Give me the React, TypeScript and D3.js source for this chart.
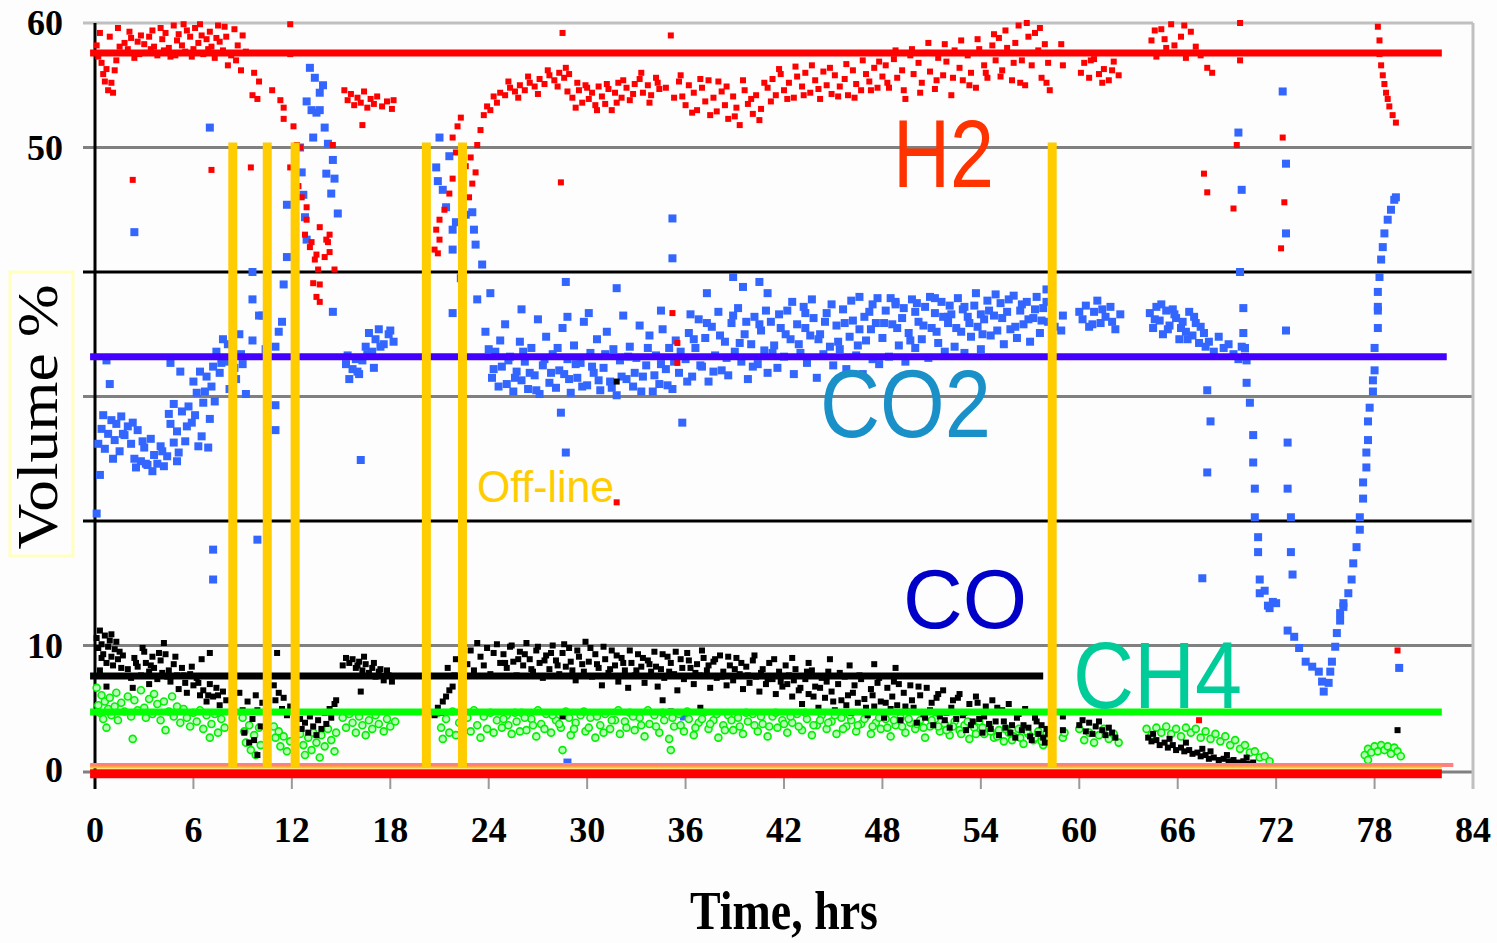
import { useEffect, useRef } from 'react';
import * as d3 from 'd3';

type Pt = [number, number];

// axis values
const xTicks = [0, 6, 12, 18, 24, 30, 36, 42, 48, 54, 60, 66, 72, 78, 84];
const yGrid = [10, 20, 30, 40, 50, 60];
const yTickLabels = [0, 10, 50, 60];

// off-line periods (hours) drawn as vertical bars from 0 up to offlineTop
const offlineHours = [8.4, 10.5, 12.2, 20.2, 22.4, 58.35];
const offlineTop = 50.4;

// average levels: H2, CO2, CO, CH4 (value and last hour)
const levelValues = [57.6, 33.2, 7.55, 4.66];
const levelEnds = [82.1, 82.4, 57.8, 82.1];
const zeroLevels = [0.4, 0.2, -0.3];
const zeroEnds = [82.8, 82.1, 82.1];

const h2Points: Pt[] = [
  [0.1, 58.2], [0.2, 57.3], [0.4, 56.8], [0.5, 55.9], [0.7, 56.3], [0.8, 54.6], [1.0, 55.2], [1.1, 54.4], [1.3, 57.0], [1.5, 58.1],
  [1.6, 57.6], [1.8, 58.4], [2.0, 57.9], [2.2, 58.8], [2.4, 57.2], [2.6, 58.5], [2.8, 59.0], [3.0, 58.3], [3.1, 57.6], [3.3, 58.9],
  [3.5, 59.4], [3.6, 58.1], [3.8, 57.4], [4.0, 59.6], [4.1, 58.7], [4.3, 59.2], [4.5, 58.0], [4.6, 57.3], [4.8, 59.8], [5.0, 58.6],
  [5.1, 59.1], [5.3, 58.2], [5.5, 57.7], [5.6, 59.4], [5.8, 58.9], [6.0, 57.9], [6.1, 59.6], [6.3, 58.4], [6.5, 59.0], [6.6, 57.5],
  [6.8, 58.7], [7.0, 59.3], [7.1, 58.1], [7.3, 57.2], [7.5, 59.8], [7.6, 58.5], [7.8, 57.8], [8.0, 58.9], [8.1, 56.6], [8.3, 57.4],
  [8.5, 59.5], [8.7, 58.2], [9.0, 59.0], [9.2, 57.7], [8.6, 57.0], [8.9, 56.2], [9.7, 56.0], [10.0, 55.3], [9.6, 54.2], [9.9, 53.9],
  [0.3, 59.2], [0.9, 58.9], [1.4, 59.6], [2.1, 59.3], [2.7, 57.5], [3.4, 57.9], [4.2, 57.8], [4.9, 57.4], [5.4, 59.9], [5.9, 57.3],
  [6.4, 59.9], [6.9, 57.9], [7.4, 58.8], [7.9, 59.7], [1.2, 56.2], [0.6, 55.3],
  [10.8, 54.6], [11.3, 53.8], [11.5, 53.2], [11.5, 52.3], [11.9, 59.9], [11.9, 57.5], [12.1, 51.7], [12.3, 50.2], [12.5, 50.0], [14.5, 50.2],
  [11.9, 48.4], [12.4, 46.9], [12.6, 46.0], [12.9, 45.2], [12.9, 44.2], [13.7, 43.6], [14.1, 42.6], [13.2, 42.4], [13.1, 42.0], [13.5, 41.4],
  [14.0, 41.2], [14.3, 41.6], [13.3, 39.1], [13.5, 38.0], [14.6, 40.2], [13.7, 37.6], [12.8, 43.0], [13.4, 41.0], [13.6, 40.2], [13.7, 39.0],
  [14.2, 42.4], [14.3, 43.0],
  [15.2, 54.6], [15.4, 53.8], [15.6, 54.3], [15.8, 53.4], [16.0, 54.0], [16.2, 53.6], [16.4, 54.5], [16.6, 53.2], [16.8, 53.9], [17.0, 53.5],
  [17.2, 54.1], [17.5, 53.3], [17.8, 53.7], [18.1, 53.1], [18.2, 53.8], [16.3, 51.8],
  [20.7, 41.8], [21.0, 42.6], [20.8, 43.4], [20.9, 41.5], [21.0, 44.2], [21.3, 45.0], [21.6, 46.3], [21.8, 47.5], [21.8, 50.8], [22.0, 49.6],
  [22.3, 52.4], [22.1, 51.7], [22.6, 48.5], [22.9, 49.2], [23.0, 47.1], [22.8, 46.0], [23.2, 48.0], [23.3, 50.2], [23.5, 51.4], [23.7, 52.6],
  [23.9, 53.3], [24.1, 53.0], [24.3, 54.1], [24.5, 53.6], [24.7, 54.4],
  [25.0, 54.2], [25.3, 54.8], [25.6, 54.5], [25.9, 55.0], [26.2, 54.6], [26.5, 55.2], [26.8, 54.9], [27.1, 55.5], [27.4, 55.1], [27.7, 55.8],
  [28.0, 55.4], [28.3, 56.0], [28.6, 55.6], [28.7, 56.4], [28.9, 55.9], [29.1, 54.0], [29.3, 53.2], [29.5, 54.6], [29.7, 53.6], [29.9, 55.0],
  [30.1, 53.9], [30.3, 54.4], [30.5, 53.4], [30.7, 54.9], [30.9, 54.1], [31.1, 53.5], [31.3, 54.7], [31.5, 53.0], [31.7, 54.4], [31.9, 55.2],
  [32.1, 54.0], [32.4, 54.8], [32.6, 53.8], [32.9, 55.1], [33.2, 55.5], [33.4, 54.4], [33.7, 55.0], [33.9, 54.2], [34.2, 55.6], [34.4, 54.7],
  [35.6, 55.3], [35.8, 54.1], [36.0, 53.4], [36.2, 55.0], [36.5, 54.4], [36.7, 53.0], [37.0, 54.8], [37.2, 53.7], [37.4, 55.4], [37.7, 54.0],
  [37.9, 52.9], [38.2, 54.5], [38.4, 53.4], [38.6, 52.3], [38.9, 54.1], [39.1, 53.2], [39.3, 51.8], [39.6, 54.6], [39.8, 53.5], [40.1, 52.7],
  [40.3, 54.2], [40.6, 53.1], [41.0, 54.8], [41.3, 55.5], [41.5, 54.2], [41.8, 55.9], [42.0, 54.6], [42.3, 55.2], [42.6, 54.0], [42.8, 55.7],
  [43.1, 54.9], [43.3, 56.0], [43.6, 54.4], [43.9, 55.4], [44.1, 54.7], [44.4, 56.1], [44.6, 55.0], [44.9, 54.3], [45.1, 55.8], [45.4, 54.9],
  [45.7, 55.5], [45.9, 54.2], [46.2, 56.2], [46.4, 55.1], [46.7, 54.6], [47.0, 55.9], [47.2, 55.3], [47.5, 56.4], [47.7, 54.8], [48.0, 55.7],
  [48.2, 56.6], [48.4, 54.8], [48.7, 57.1], [48.9, 55.6], [49.2, 56.2], [49.4, 53.9], [49.7, 57.4], [49.9, 55.9], [50.2, 56.8], [50.4, 55.2],
  [50.7, 57.6], [50.9, 56.1], [51.2, 54.7], [51.4, 57.2], [51.7, 55.8], [51.9, 56.9], [52.2, 54.2], [52.4, 57.8], [52.7, 56.4], [52.9, 55.4],
  [53.2, 57.4], [53.4, 56.0], [53.7, 54.8], [53.9, 57.9], [54.2, 56.6], [54.4, 55.6], [54.7, 58.2], [54.9, 57.0], [55.1, 58.8], [55.3, 56.2],
  [55.5, 59.4], [55.7, 57.6], [55.9, 55.4], [56.1, 58.4], [56.3, 59.8], [56.5, 57.0], [56.7, 55.0], [56.9, 58.9], [57.1, 56.6], [57.3, 59.2],
  [57.5, 57.8], [57.7, 55.6], [57.9, 58.3], [58.1, 56.8], [58.2, 54.6], [58.7, 57.6], [59.0, 56.6], [58.9, 58.3],
  [25.2, 55.3], [25.8, 54.0], [26.4, 55.7], [27.0, 54.3], [27.6, 56.2], [28.2, 54.9], [28.8, 54.5], [29.4, 55.2], [30.0, 54.8], [30.6, 53.0],
  [31.2, 55.1], [31.8, 53.6], [32.2, 55.4], [32.8, 54.3], [33.3, 56.0], [33.8, 53.6], [34.3, 55.2], [34.8, 54.8], [35.3, 54.0], [35.7, 55.8],
  [36.4, 52.8], [36.9, 55.5], [37.5, 52.6], [38.0, 55.3], [38.5, 54.9], [39.0, 52.5], [39.5, 55.4], [40.0, 53.9], [40.5, 52.2], [40.8, 55.2],
  [41.2, 53.7], [41.7, 56.3], [42.2, 53.9], [42.7, 56.5], [43.2, 54.2], [43.7, 56.6], [44.2, 53.9], [44.8, 56.4], [45.3, 54.1], [45.8, 56.7],
  [46.3, 54.0], [46.8, 57.0], [47.3, 54.6], [47.8, 56.9], [48.3, 55.2], [48.8, 57.8], [49.3, 54.6], [49.8, 57.9], [50.3, 54.4], [50.8, 58.4],
  [51.3, 55.4], [51.8, 58.3], [52.3, 55.6], [52.8, 58.6], [53.3, 55.0], [53.8, 58.7], [54.3, 56.0], [54.8, 59.1], [55.2, 55.7], [55.6, 58.0],
  [56.0, 56.8], [56.4, 55.2], [56.8, 60.0], [57.2, 57.6], [57.6, 59.6], [58.0, 55.2],
  [60.3, 56.8], [60.6, 55.6], [60.9, 57.1], [61.2, 55.9], [61.5, 56.3], [61.8, 55.4], [62.1, 56.9], [62.4, 55.8], [60.1, 56.0], [60.7, 57.0],
  [61.4, 55.2], [62.0, 56.2],
  [64.4, 58.6], [64.7, 57.3], [65.0, 59.5], [65.3, 58.0], [65.6, 59.9], [65.9, 57.6], [66.2, 58.9], [66.5, 57.2], [66.8, 59.3], [67.1, 58.1],
  [67.4, 57.4], [67.8, 56.4], [68.1, 56.0], [64.6, 59.4], [65.2, 58.7], [65.8, 58.2], [66.4, 59.8], [67.0, 57.6],
  [67.6, 47.9], [67.8, 46.4], [69.6, 50.2], [69.8, 60.0], [69.8, 57.0], [69.4, 45.1], [72.4, 50.8], [72.5, 45.6], [72.3, 41.9],
  [78.2, 59.7], [78.3, 58.6], [78.3, 57.5], [78.4, 56.6], [78.5, 55.8], [78.6, 55.1], [78.7, 54.4], [78.8, 53.9], [78.9, 53.3], [79.1, 52.6],
  [79.3, 52.0],
  [2.3, 47.4], [7.1, 48.2], [9.5, 48.4], [28.4, 47.2], [28.5, 59.2], [35.1, 59.0], [31.8, 21.5], [67.3, 4.0], [79.4, 9.6], [35.2, 36.7],
  [35.5, 34.3], [35.5, 32.7],
];

const co2Points: Pt[] = [
  [0.1, 20.6], [0.3, 23.7], [0.2, 26.2], [0.4, 27.4], [0.6, 25.8], [0.7, 32.9], [0.9, 31.0], [0.8, 27.0], [1.0, 28.1], [1.2, 26.5],
  [1.3, 27.8], [1.5, 25.6], [1.6, 28.4], [1.8, 26.9], [2.0, 27.6], [2.2, 26.2], [2.4, 25.0], [2.6, 27.3], [2.8, 24.8], [3.0, 25.9],
  [3.2, 24.5], [3.4, 26.6], [3.6, 25.3], [3.8, 24.6], [4.0, 26.0], [4.2, 24.4], [4.4, 25.2], [4.6, 27.8], [4.8, 26.3], [5.0, 24.8],
  [4.5, 28.6], [4.8, 29.4], [5.0, 27.2], [5.3, 28.8], [5.5, 26.4], [5.7, 29.2], [5.9, 27.9], [6.0, 31.2], [6.2, 30.3], [6.4, 32.0],
  [6.5, 26.8], [6.6, 29.5], [6.8, 31.6], [7.0, 28.2], [7.1, 30.8], [7.2, 32.4], [7.4, 33.6], [7.6, 31.9], [7.8, 34.6], [8.0, 32.8],
  [8.2, 30.6], [8.4, 33.9], [8.6, 31.4], [8.8, 35.0], [9.0, 32.6], [9.2, 30.2], [5.2, 32.0], [4.6, 32.7], [6.3, 26.0], [3.1, 24.6],
  [0.5, 28.5], [1.1, 25.0], [1.7, 27.0], [2.3, 27.9], [2.9, 26.4], [3.5, 24.0], [4.1, 25.6], [5.1, 25.5], [5.6, 27.6], [6.1, 28.5],
  [6.7, 30.4], [7.3, 29.6], [7.7, 32.7], [8.1, 34.2], [8.5, 32.3], [8.9, 33.4],
  [6.9, 25.9], [2.4, 43.2], [7.0, 51.6], [7.2, 17.7], [7.2, 15.3], [9.9, 18.5], [16.2, 24.9], [2.5, 24.3],
  [9.6, 34.5], [9.6, 40.0], [9.6, 37.8], [10.0, 36.5], [10.2, 36.5], [10.4, 33.8], [11.0, 34.0], [11.4, 36.0], [11.2, 35.2], [11.0, 29.3],
  [11.0, 27.3], [11.7, 45.4], [11.7, 41.2], [11.5, 39.0], [12.5, 50.0], [12.6, 48.0], [12.7, 46.2], [12.8, 44.4], [12.9, 42.6], [12.9, 53.7],
  [13.2, 53.0], [13.5, 52.8], [13.1, 56.4], [13.4, 55.6], [13.7, 54.4], [13.9, 55.0], [13.7, 53.0], [14.0, 51.6], [14.2, 50.3], [14.5, 49.0],
  [14.1, 47.9], [14.4, 46.3], [14.8, 44.7], [14.6, 47.5], [14.5, 36.8], [13.3, 50.8],
  [15.3, 32.6], [15.5, 31.4], [15.7, 32.2], [15.9, 33.0], [16.1, 31.8], [16.3, 32.9], [16.5, 34.0], [16.7, 35.1], [16.9, 33.6], [17.1, 34.6],
  [17.3, 35.4], [17.6, 34.2], [17.9, 35.0], [18.2, 34.4], [17.0, 32.3], [15.4, 33.3], [16.0, 32.0], [16.6, 33.4], [17.4, 34.0], [18.0, 35.3],
  [20.8, 48.4], [21.0, 50.8], [21.2, 46.6], [21.4, 45.2], [21.8, 43.4], [21.8, 41.8], [22.0, 44.0], [22.6, 44.6], [23.1, 43.4], [23.2, 42.2],
  [23.3, 37.8], [24.1, 38.3], [21.8, 36.7], [22.3, 39.5], [20.9, 47.3], [21.6, 49.3], [23.0, 44.8], [23.6, 40.6], [23.8, 35.2], [24.0, 33.8],
  [24.2, 31.5], [24.4, 33.6], [24.6, 30.8], [24.8, 32.4], [25.0, 35.8], [25.1, 31.0], [25.3, 33.2], [25.5, 30.4], [25.7, 32.0], [25.9, 34.4],
  [26.0, 31.3], [26.2, 32.8], [26.4, 30.6], [26.6, 33.9], [26.8, 31.7], [27.0, 36.2], [27.1, 30.2], [27.3, 32.5], [27.5, 34.8], [27.7, 31.1],
  [27.9, 33.4], [28.1, 30.7], [28.3, 32.1], [28.5, 35.5], [28.6, 31.8], [28.8, 33.0], [29.0, 30.3], [29.2, 34.1], [29.4, 31.5], [29.6, 32.7],
  [29.8, 36.0], [30.0, 30.9], [30.2, 33.5], [30.4, 31.9], [30.6, 34.6], [30.8, 30.5], [31.0, 32.3], [31.2, 35.2], [31.4, 31.2], [31.6, 33.8],
  [31.8, 30.1], [32.0, 32.9], [32.2, 36.5], [32.4, 31.4], [32.6, 34.0], [32.8, 30.8], [33.0, 33.1], [33.2, 35.7], [33.4, 31.6], [33.6, 32.5],
  [33.8, 34.9], [34.0, 30.4], [34.2, 33.3], [34.4, 31.0], [34.6, 35.4], [34.8, 32.2], [35.0, 33.9], [35.2, 30.6], [35.4, 34.5], [35.6, 31.9],
  [24.3, 32.2], [24.7, 34.5], [25.2, 32.9], [25.6, 31.5], [26.1, 33.6], [26.5, 31.9], [26.9, 30.5], [27.4, 33.0], [27.8, 31.9], [28.2, 33.9],
  [28.9, 31.4], [29.3, 32.6], [29.7, 30.8], [30.3, 32.4], [30.7, 31.3], [31.1, 33.4], [31.5, 30.7], [32.1, 31.6], [32.5, 33.2], [32.9, 31.9],
  [33.3, 30.4], [33.7, 33.9], [34.1, 31.7], [34.5, 32.6], [34.9, 30.9], [35.3, 32.8], [35.7, 33.6],
  [35.8, 27.9], [28.4, 28.7], [28.7, 25.5], [28.7, 39.2], [31.8, 38.7], [35.2, 44.3], [35.2, 41.1], [37.3, 38.3], [38.9, 39.6], [39.5, 38.8],
  [40.5, 39.2], [41.0, 38.3], [36.3, 36.6], [26.0, 37.0], [30.1, 36.7], [28.8, 36.4], [34.5, 36.9], [43.3, 36.7], [28.8, 0.6], [35.9, 4.3],
  [36.0, 33.0], [36.2, 35.1], [36.4, 31.6], [36.6, 33.9], [36.8, 36.2], [37.0, 32.4], [37.2, 34.7], [37.4, 31.2], [37.6, 35.6], [37.8, 33.3],
  [38.0, 36.8], [38.2, 32.1], [38.4, 34.4], [38.6, 31.7], [38.8, 35.9], [39.0, 33.6], [39.2, 37.1], [39.4, 32.8], [39.6, 35.0], [39.8, 31.4],
  [40.0, 34.2], [40.2, 36.4], [40.4, 32.6], [40.6, 35.3], [40.8, 33.7], [41.0, 31.9], [41.2, 36.0], [41.4, 34.1], [41.6, 32.3], [41.8, 35.5],
  [42.0, 33.2], [42.2, 36.9], [42.4, 34.6], [42.6, 31.8], [42.8, 35.8], [43.0, 33.5], [43.2, 37.2], [43.4, 32.7], [43.6, 34.9], [43.8, 36.3],
  [44.0, 31.5], [44.2, 35.0], [44.4, 33.4], [44.6, 36.7], [44.8, 34.0], [45.0, 32.5], [45.2, 35.7], [45.4, 33.8], [45.6, 37.0], [45.8, 32.2],
  [46.0, 34.8], [46.2, 36.1], [46.4, 33.3], [46.6, 35.4], [46.8, 31.8], [47.0, 34.5], [47.2, 36.8], [47.4, 33.0], [47.6, 35.9], [47.8, 32.6],
  [36.1, 31.2], [36.5, 34.6], [36.9, 32.5], [37.3, 35.9], [37.7, 32.0], [38.1, 34.9], [38.5, 33.1], [38.9, 36.5], [39.3, 34.3], [39.7, 36.0],
  [40.1, 32.4], [40.5, 35.8], [40.9, 36.9], [41.3, 33.5], [41.7, 36.6], [42.1, 35.0], [42.5, 37.6], [42.9, 34.2], [43.3, 35.5], [43.7, 37.8],
  [44.1, 34.6], [44.5, 36.0], [44.9, 37.4], [45.3, 34.4], [45.7, 35.9], [46.1, 37.7], [46.5, 34.1], [46.9, 36.4], [47.3, 35.4], [47.7, 37.9],
  [46.6, 38.0], [47.4, 37.4], [48.8, 37.6], [50.0, 36.8], [51.2, 37.9], [52.0, 36.4], [53.0, 37.2], [54.0, 36.6],
  [48.0, 34.7], [48.2, 36.9], [48.4, 33.2], [48.6, 35.8], [48.8, 37.4], [49.0, 34.1], [49.2, 36.3], [49.4, 32.8], [49.6, 35.1], [49.8, 37.8],
  [50.0, 33.9], [50.2, 36.0], [50.4, 34.6], [50.6, 37.2], [50.8, 33.1], [51.0, 35.5], [51.2, 36.7], [51.4, 34.3], [51.6, 37.6], [51.8, 33.6],
  [52.0, 35.9], [52.2, 36.6], [52.4, 34.0], [52.6, 37.9], [52.8, 35.2], [53.0, 33.5], [53.2, 36.4], [53.4, 34.8], [53.6, 37.3], [53.8, 35.6],
  [54.0, 33.8], [54.2, 36.2], [54.4, 37.7], [54.6, 34.9], [54.8, 36.5], [55.0, 35.3], [55.2, 37.5], [55.4, 34.2], [55.6, 36.8], [55.8, 35.4],
  [56.0, 38.1], [56.2, 34.7], [56.4, 36.9], [56.6, 35.8], [56.8, 37.6], [57.0, 34.4], [57.2, 36.3], [57.4, 38.0], [57.6, 35.1], [57.8, 37.1],
  [58.0, 38.6], [58.1, 36.0],
  [48.1, 35.9], [48.5, 37.9], [48.9, 35.5], [49.3, 37.1], [49.7, 34.5], [50.1, 37.5], [50.5, 35.7], [50.9, 38.0], [51.3, 35.2], [51.7, 36.4],
  [52.1, 37.3], [52.5, 35.5], [52.9, 37.0], [53.3, 35.9], [53.7, 38.3], [54.1, 35.0], [54.5, 36.9], [54.9, 38.2], [55.3, 36.3], [55.7, 37.8],
  [56.1, 35.6], [56.5, 37.4], [56.9, 36.2], [57.3, 37.0], [57.7, 36.1], [58.0, 37.6],
  [58.9, 35.3], [59.0, 36.5], [60.2, 36.2], [60.4, 37.3], [60.6, 35.6], [60.9, 36.8], [61.1, 37.7], [61.3, 35.9], [61.6, 36.4], [61.9, 37.2],
  [62.2, 35.4], [62.5, 36.6], [58.5, 35.6], [60.0, 36.8], [60.8, 35.8], [61.4, 37.0], [62.0, 36.0],
  [64.3, 36.7], [64.5, 35.5], [64.7, 37.2], [64.9, 36.1], [65.1, 35.0], [65.3, 36.9], [65.5, 35.7], [65.7, 37.0], [65.9, 36.3], [66.1, 34.6],
  [66.3, 36.0], [66.5, 35.2], [66.7, 36.8], [66.9, 34.9], [67.1, 35.9], [67.3, 34.3], [67.6, 35.1], [67.9, 34.4], [68.2, 33.6], [68.5, 34.8],
  [68.8, 33.9], [69.1, 34.2], [69.4, 33.4], [69.7, 33.0], [69.9, 34.0], [70.1, 33.2], [64.6, 36.2], [65.0, 37.4], [65.4, 35.4], [65.8, 36.6],
  [66.2, 35.5], [66.6, 34.6], [67.0, 36.4], [67.4, 35.6], [67.7, 34.0],
  [67.8, 30.5], [68.0, 28.0], [67.8, 23.9], [67.5, 15.4],
  [69.7, 51.2], [69.9, 46.6], [69.8, 40.0], [70.0, 37.1], [70.0, 35.1], [70.1, 33.9], [70.2, 32.9], [70.2, 31.1], [70.4, 29.5], [70.6, 26.9],
  [70.6, 24.7], [70.7, 22.6], [70.7, 20.3], [70.9, 18.7], [70.9, 17.5], [71.0, 15.3], [71.0, 14.2], [71.3, 14.4], [71.6, 13.0], [72.0, 13.4],
  [71.5, 13.2], [71.8, 13.5],
  [72.4, 54.5], [72.6, 48.7], [72.6, 43.1], [72.6, 35.3], [72.7, 26.3], [72.7, 22.6], [72.9, 20.3], [72.9, 17.5], [73.0, 15.7],
  [72.7, 11.2], [73.1, 10.7], [73.4, 9.8], [73.8, 8.7], [74.2, 8.3], [74.6, 7.9], [74.8, 7.1], [74.9, 6.3], [75.2, 7.0], [75.3, 7.9],
  [75.4, 8.7], [75.6, 9.9], [75.7, 11.0], [75.9, 12.0], [75.9, 12.6], [76.1, 13.1], [76.1, 13.4], [76.4, 14.2], [76.6, 15.3], [76.7, 16.6],
  [76.9, 17.9], [77.1, 19.3], [77.1, 20.3], [77.3, 21.8], [77.3, 23.1], [77.5, 24.3], [77.5, 25.5], [77.6, 26.5], [77.6, 28.0], [77.7, 29.1],
  [77.9, 30.4], [77.9, 31.3], [78.0, 32.1], [78.0, 33.9], [78.2, 35.5], [78.2, 36.9], [78.2, 37.2], [78.2, 38.4], [78.3, 39.6], [78.4, 41.0],
  [78.5, 42.0], [78.6, 43.1], [78.8, 44.2], [79.0, 45.0], [79.2, 45.8], [79.3, 46.0], [79.5, 8.2],
];

const coPoints: Pt[] = [
  [0.1, 10.6], [0.2, 9.8], [0.3, 11.2], [0.4, 10.1], [0.5, 9.3], [0.6, 10.8], [0.7, 8.6], [0.8, 9.9], [0.9, 10.4], [1.0, 9.1],
  [1.1, 8.4], [1.2, 9.7], [1.3, 10.3], [1.4, 8.9], [1.5, 9.5], [0.7, 6.7], [1.6, 8.2], [0.3, 8.0], [0.4, 9.0], [1.0, 10.9], [1.7, 9.2],
  [2.0, 8.1], [2.2, 7.4], [2.4, 9.0], [2.6, 8.3], [2.8, 7.6], [3.0, 9.5], [3.1, 8.6], [3.3, 7.9], [3.5, 9.1], [3.6, 8.2],
  [3.8, 7.3], [4.0, 8.8], [4.1, 7.8], [4.3, 9.3], [4.5, 8.0], [4.6, 7.1], [4.8, 8.5], [5.0, 7.6], [5.1, 6.5], [5.3, 8.2],
  [5.5, 7.0], [5.6, 6.2], [5.8, 7.7], [6.0, 6.8], [6.2, 7.4], [6.4, 6.0], [2.3, 6.6], [3.3, 6.9], [4.2, 10.2], [7.0, 9.4],
  [2.5, 8.6], [2.9, 9.8], [3.4, 8.4], [3.9, 9.4], [4.4, 7.5], [4.9, 9.1], [5.4, 7.6], [5.9, 8.3], [6.3, 7.0], [6.9, 6.0], [7.5, 6.0],
  [6.5, 8.9], [6.6, 6.4], [6.8, 5.5], [7.0, 6.9], [7.2, 5.9], [7.4, 6.6], [7.6, 5.2], [7.8, 6.3], [8.0, 5.6],
  [8.8, 6.2], [9.0, 4.8], [9.1, 3.0], [9.3, 5.5], [9.4, 2.2], [9.6, 4.1], [9.7, 2.4], [9.8, 6.0], [9.9, 1.2], [9.9, 4.8],
  [10.1, 3.5], [10.2, 5.4], [10.9, 6.8], [11.0, 5.6], [11.1, 9.4], [11.2, 6.2], [11.4, 4.9], [11.5, 5.8], [11.7, 4.4], [11.9, 5.1],
  [12.5, 4.1], [12.6, 3.3], [12.8, 3.8], [13.0, 3.0], [13.1, 4.3], [13.3, 3.5], [13.5, 2.8], [13.6, 4.0], [13.8, 3.3], [14.0, 4.6],
  [14.1, 3.7], [14.3, 4.9], [14.4, 4.2], [14.6, 5.3], [14.7, 5.6],
  [15.1, 8.4], [15.3, 9.0], [15.5, 8.6], [15.7, 8.9], [15.9, 8.2], [16.1, 8.7], [16.2, 6.3], [16.3, 8.0], [16.5, 8.5], [16.7, 7.8],
  [16.9, 8.2], [17.1, 7.5], [17.3, 7.9], [17.6, 7.2], [17.9, 7.6], [18.1, 7.1], [16.0, 8.4], [16.4, 9.1], [17.0, 8.6], [17.4, 8.1], [17.8, 8.0],
  [20.7, 4.4], [20.9, 5.0], [21.1, 4.6], [21.2, 5.5], [21.4, 5.9], [21.6, 6.4], [21.8, 6.7], [21.9, 7.6], [22.0, 8.9], [21.5, 8.2],
  [22.7, 8.5], [22.9, 9.6], [23.1, 8.0], [23.3, 10.2], [23.5, 9.1], [23.7, 8.4], [23.9, 9.8], [24.1, 7.7], [24.3, 9.4], [24.5, 10.1],
  [24.7, 8.6], [24.9, 9.3], [25.1, 8.2], [25.3, 9.9], [25.5, 8.7], [25.7, 7.6], [25.9, 9.5], [26.1, 8.4], [26.3, 10.2], [26.5, 8.9],
  [26.7, 7.9], [26.9, 9.6], [27.1, 8.6], [27.3, 7.4], [27.5, 9.2], [27.7, 8.1], [27.9, 10.0], [28.1, 8.8], [28.3, 7.7], [28.5, 9.4],
  [28.7, 8.3], [28.9, 9.8], [29.1, 8.0], [29.3, 7.2], [29.5, 9.1], [29.7, 8.5], [29.9, 10.3],
  [30.1, 8.7], [30.3, 7.5], [30.5, 9.3], [30.7, 8.2], [30.9, 6.8], [31.1, 8.9], [31.3, 7.8], [31.5, 9.6], [31.7, 8.4], [31.9, 7.1],
  [32.1, 9.0], [32.3, 8.0], [32.5, 6.6], [32.7, 8.6], [32.9, 7.6], [33.1, 9.3], [33.3, 8.3], [33.5, 7.0], [33.7, 8.8], [33.9, 7.9],
  [34.1, 9.5], [34.3, 6.7], [34.5, 8.1], [34.7, 7.4], [34.9, 9.1], [35.1, 8.6], [35.3, 7.7], [35.5, 6.4], [35.7, 8.9], [35.9, 7.3],
  [36.1, 9.4], [36.3, 8.2], [36.5, 6.9], [36.7, 8.5], [36.9, 7.6], [37.1, 9.0], [37.3, 8.0], [37.5, 6.6], [37.7, 8.7], [37.9, 7.4],
  [38.1, 9.2], [38.3, 7.9], [38.5, 6.8], [38.7, 8.4], [38.9, 7.2], [39.1, 9.0], [39.3, 7.7], [39.5, 6.5], [39.7, 8.3], [39.9, 7.0],
  [40.1, 8.8], [40.3, 7.5], [40.5, 6.3], [40.7, 8.1], [40.9, 6.9], [41.1, 8.6], [41.3, 7.3], [41.5, 6.1], [41.7, 7.9], [41.9, 6.7],
  [42.1, 8.4], [28.5, 4.3], [34.6, 5.6], [35.1, 4.7], [36.9, 5.0], [31.8, 31.2],
  [25.0, 8.6], [25.4, 10.0], [25.8, 8.9], [26.2, 9.3], [26.6, 8.1], [27.0, 9.9], [27.4, 8.8], [27.8, 9.4], [28.2, 8.4], [28.6, 10.1],
  [29.0, 8.7], [29.4, 9.6], [29.8, 7.9], [30.2, 9.8], [30.6, 8.5], [31.0, 9.9], [31.4, 8.1], [31.8, 9.2], [32.2, 8.6], [32.6, 9.6],
  [33.0, 8.0], [33.4, 9.0], [33.8, 8.5], [34.2, 8.3], [34.6, 9.3], [35.0, 7.9], [35.4, 9.5], [35.8, 8.2], [36.2, 8.8], [36.6, 7.8],
  [37.0, 9.6], [37.4, 8.4], [37.8, 8.9], [38.2, 7.5], [38.6, 9.1], [39.0, 8.1], [39.4, 8.6], [39.8, 7.6], [40.2, 9.2], [40.6, 7.8],
  [41.0, 7.3], [41.4, 8.9], [41.8, 7.1], [42.2, 6.9], [42.6, 7.2], [43.0, 6.6], [43.4, 7.9], [43.8, 5.9], [44.2, 6.6], [44.6, 7.1],
  [45.0, 5.5], [45.4, 7.8], [45.8, 5.2], [46.2, 6.2], [46.6, 7.6], [47.0, 5.0], [47.4, 6.0], [47.8, 7.4], [48.2, 5.4], [48.6, 5.9],
  [49.0, 6.9], [49.4, 5.1], [49.8, 5.6], [50.2, 6.7], [50.6, 4.2], [51.0, 5.4], [51.4, 6.1], [51.8, 4.0], [52.2, 5.0], [52.6, 5.8],
  [53.0, 4.6], [53.4, 3.6], [53.8, 5.4], [54.2, 4.3], [54.6, 3.3], [55.0, 5.0], [55.4, 3.9], [55.8, 3.0], [56.2, 4.2], [56.6, 3.6],
  [57.0, 2.7], [57.4, 3.9], [57.8, 2.6], [58.0, 3.3],
  [42.3, 7.6], [42.5, 5.9], [42.7, 8.1], [42.9, 6.4], [43.1, 5.3], [43.3, 7.3], [43.5, 6.1], [43.7, 8.0], [43.9, 6.7], [44.1, 5.0],
  [44.3, 7.4], [44.5, 5.8], [44.7, 7.9], [44.9, 6.3], [45.1, 4.8], [45.3, 6.9], [45.5, 5.6], [45.7, 7.5], [45.9, 6.0], [46.1, 4.6],
  [46.3, 6.8], [46.5, 5.4], [46.7, 7.3], [46.9, 5.7], [47.1, 4.4], [47.3, 6.5], [47.5, 5.1], [47.7, 7.0], [47.9, 5.5], [48.1, 4.2],
  [48.3, 6.6], [48.5, 4.9], [48.7, 7.1], [48.9, 5.2], [49.1, 4.0], [49.3, 6.2], [49.5, 4.7], [49.7, 6.8], [49.9, 5.0], [50.1, 3.8],
  [50.3, 6.0], [50.5, 4.5], [50.7, 6.6], [50.9, 4.8], [51.1, 3.6], [51.3, 5.8], [51.5, 4.3], [51.7, 6.4], [51.9, 4.6], [52.1, 3.4],
  [52.3, 5.6], [52.5, 4.1], [52.7, 6.1], [52.9, 4.4], [53.1, 3.2], [53.3, 5.3], [53.5, 3.9], [53.7, 5.9], [53.9, 4.1], [54.1, 3.0],
  [54.3, 5.1], [54.5, 3.7], [54.7, 5.6], [54.9, 3.9], [55.1, 2.8], [55.3, 4.8], [55.5, 3.4], [55.7, 5.3], [55.9, 3.6], [56.1, 2.6],
  [56.3, 4.5], [56.5, 3.2], [56.7, 4.9], [56.9, 3.4], [57.1, 2.4], [57.3, 4.2], [57.5, 2.9], [57.7, 3.6], [57.9, 2.2], [58.1, 2.9],
  [42.5, 9.0], [43.5, 8.6], [44.8, 8.9], [46.0, 8.4], [47.5, 8.5], [48.8, 8.2],
  [59.0, 4.3], [59.0, 3.2], [60.0, 3.6], [60.2, 4.0], [60.4, 3.1], [60.6, 3.8], [60.8, 2.9], [61.0, 3.5], [61.2, 3.9], [61.4, 3.2],
  [61.6, 2.8], [61.8, 3.4], [62.0, 3.0], [62.2, 2.6],
  [64.2, 2.6], [64.4, 2.3], [64.7, 2.4], [64.9, 2.0], [65.2, 2.2], [65.4, 1.8], [65.7, 2.0], [65.9, 1.6], [66.2, 1.8], [66.4, 1.5],
  [66.7, 1.6], [66.9, 1.3], [67.2, 1.4], [67.4, 1.1], [67.7, 1.2], [67.9, 0.9], [68.2, 1.0], [68.5, 0.8], [68.8, 0.9], [69.1, 0.7],
  [69.4, 0.8], [69.7, 0.6], [70.0, 0.7], [70.3, 0.5], [70.6, 0.6], [64.5, 2.9], [65.5, 2.5], [66.5, 2.2], [67.5, 1.7], [68.0, 1.5],
  [69.0, 1.2], [70.2, 1.0], [79.4, 3.2],
];

const ch4Points: Pt[] = [
  [0.1, 6.6], [0.2, 5.2], [0.3, 4.6], [0.4, 6.0], [0.5, 4.1], [0.6, 5.5], [0.7, 3.4], [0.8, 4.9], [0.9, 5.8], [1.0, 4.4],
  [1.2, 5.1], [1.3, 6.2], [1.4, 4.0], [1.6, 5.4], [1.8, 4.7], [2.0, 5.9], [2.2, 4.3], [2.3, 2.5], [2.4, 5.6], [2.6, 4.8],
  [2.8, 6.4], [3.0, 5.0], [3.1, 4.2], [3.3, 5.7], [3.5, 4.5], [3.6, 6.1], [3.8, 5.3], [4.0, 4.0], [4.2, 5.5], [4.3, 3.2],
  [4.5, 4.7], [4.7, 5.9], [4.8, 4.3], [5.0, 5.1], [5.2, 3.8], [5.4, 4.9], [5.6, 4.2], [5.8, 3.5], [6.0, 4.6], [6.2, 3.9],
  [6.4, 4.8], [6.6, 3.3], [6.8, 4.4], [7.0, 2.6], [7.1, 3.7], [7.3, 4.5], [7.5, 3.0], [7.7, 4.1], [7.9, 3.4],
  [9.0, 4.2], [9.1, 3.1], [9.2, 2.2], [9.4, 3.6], [9.5, 1.6], [9.7, 2.8], [9.8, 1.2], [10.0, 3.4], [10.1, 2.0],
  [10.9, 3.5], [11.0, 2.6], [11.2, 3.1], [11.3, 1.9], [11.5, 2.7], [11.7, 1.5], [11.9, 2.3], [12.5, 2.9], [12.7, 2.0], [12.8, 1.2],
  [13.0, 2.6], [13.2, 1.6], [13.3, 3.0], [13.5, 2.2], [13.7, 1.0], [13.8, 2.8], [14.0, 1.9], [14.2, 3.3], [14.4, 2.4], [14.6, 1.5],
  [14.7, 3.0],
  [15.1, 4.2], [15.3, 3.4], [15.5, 4.5], [15.7, 3.8], [15.9, 3.0], [16.1, 4.3], [16.3, 3.6], [16.5, 2.8], [16.7, 4.0], [16.9, 3.3],
  [17.1, 4.4], [17.3, 3.7], [17.6, 3.1], [17.8, 4.1], [18.0, 3.5], [18.3, 3.9],
  [20.9, 4.6], [21.1, 3.4], [21.2, 2.5], [21.4, 4.1], [21.6, 3.0], [21.8, 4.7], [22.0, 2.8], [22.2, 3.8], [22.7, 4.2], [22.9, 3.1],
  [23.1, 4.8], [23.3, 3.6], [23.5, 2.6], [23.7, 4.3], [23.9, 3.3], [24.1, 4.6], [24.3, 3.0], [24.5, 4.0],
  [24.8, 3.4], [25.1, 4.4], [25.4, 2.9], [25.7, 3.9], [26.0, 4.6], [26.3, 3.2], [26.6, 4.1], [26.9, 2.7], [27.2, 3.7], [27.5, 4.5],
  [27.8, 3.0], [28.1, 4.0], [28.4, 3.4], [28.5, 1.6], [28.7, 4.7], [29.0, 2.8], [29.3, 3.8], [29.6, 4.4], [29.9, 3.1], [30.2, 4.2],
  [30.5, 2.6], [30.8, 3.6], [31.1, 4.5], [31.4, 3.3], [31.7, 4.0], [32.0, 2.9], [32.3, 3.9], [32.6, 4.6], [32.9, 3.2], [33.2, 4.2],
  [33.5, 2.7], [33.8, 3.7], [34.1, 4.4], [34.4, 3.0], [34.7, 4.0], [35.0, 2.5], [35.1, 1.6], [35.3, 3.5], [35.6, 4.5], [35.9, 3.1],
  [36.2, 4.1], [36.5, 2.8], [36.8, 3.8], [37.1, 4.6], [37.4, 3.3], [37.7, 4.0], [38.0, 2.6], [38.3, 3.6], [38.6, 4.4], [38.9, 3.2],
  [39.2, 4.2], [39.5, 2.9], [39.8, 3.9], [40.1, 4.5], [40.4, 3.1], [40.7, 3.7], [41.0, 2.7], [41.3, 4.3], [41.6, 3.4], [41.9, 4.0],
  [42.2, 3.0], [42.5, 3.8], [42.8, 4.5], [43.1, 3.2], [43.4, 4.1], [43.7, 2.8], [44.0, 3.6], [44.3, 4.4], [44.6, 3.3], [44.9, 3.9],
  [45.2, 2.9], [45.5, 4.2], [45.8, 3.5], [46.1, 4.0], [46.4, 3.1], [46.7, 3.7], [47.0, 4.3], [47.3, 2.9], [47.6, 3.8], [47.9, 3.3],
  [48.2, 4.1], [48.5, 2.7], [48.8, 3.6], [49.1, 4.2], [49.4, 3.0], [49.7, 3.8], [50.0, 3.3], [50.3, 4.0], [50.6, 2.6], [50.9, 3.5],
  [51.2, 4.1], [51.5, 3.1], [51.8, 3.7], [52.1, 2.8], [52.4, 3.9], [52.7, 3.2], [53.0, 3.6], [53.3, 2.5], [53.6, 3.4], [53.9, 3.9],
  [54.2, 2.9], [54.5, 3.5], [54.8, 2.6], [55.1, 3.2], [55.4, 2.3], [55.7, 3.0], [56.0, 2.7], [56.3, 3.3], [56.6, 2.1], [56.9, 2.9],
  [57.2, 2.4], [57.5, 3.1], [57.8, 2.0], [58.1, 2.6],
  [24.9, 4.1], [25.2, 3.6], [25.6, 4.6], [25.9, 3.1], [26.2, 4.2], [26.7, 3.6], [27.0, 4.8], [27.4, 3.3], [27.9, 4.4], [28.3, 3.7],
  [28.9, 4.2], [29.2, 3.3], [29.8, 4.7], [30.1, 3.4], [30.6, 4.3], [31.0, 3.0], [31.5, 4.0], [31.9, 4.8], [32.4, 3.4], [32.8, 4.3],
  [33.3, 3.6], [33.7, 4.8], [34.2, 3.5], [34.6, 4.6], [35.2, 4.2], [35.7, 3.6], [36.1, 4.7], [36.6, 3.4], [37.0, 4.1], [37.5, 3.7],
  [37.9, 4.5], [38.4, 3.2], [38.8, 4.0], [39.3, 3.5], [39.7, 4.6], [40.2, 3.6], [40.6, 4.3], [41.1, 3.5], [41.5, 4.6], [42.0, 3.7],
  [42.4, 4.3], [42.9, 3.5], [43.3, 4.6], [43.8, 3.6], [44.2, 4.0], [44.7, 3.8], [45.1, 4.4], [45.6, 3.3], [46.0, 4.4], [46.5, 3.6],
  [46.9, 4.1], [47.4, 3.5], [47.8, 4.2], [48.3, 3.4], [48.7, 4.0], [49.2, 3.5], [49.6, 4.1], [50.1, 3.7], [50.5, 3.4], [51.0, 4.0],
  [51.4, 3.5], [51.9, 3.2], [52.3, 3.5], [52.8, 2.9], [53.2, 3.9], [53.7, 2.9], [54.1, 3.4], [54.6, 3.1], [55.0, 2.7], [55.5, 3.3],
  [55.9, 2.4], [56.4, 2.6], [56.8, 3.1], [57.3, 2.6], [57.7, 2.3], [58.0, 2.9],
  [59.0, 2.6], [59.1, 3.0], [60.0, 3.3], [60.3, 2.4], [60.6, 3.0], [60.9, 2.2], [61.2, 2.8], [61.5, 3.3], [61.8, 2.5], [62.1, 2.9],
  [62.4, 2.2],
  [64.1, 3.3], [64.4, 2.8], [64.7, 3.4], [65.0, 3.0], [65.3, 3.5], [65.6, 2.9], [65.9, 3.3], [66.2, 2.7], [66.5, 3.4], [66.8, 3.0],
  [67.1, 3.3], [67.4, 2.6], [67.7, 3.1], [68.0, 2.5], [68.3, 2.9], [68.6, 2.3], [68.9, 2.7], [69.2, 2.0], [69.5, 2.4], [69.8, 1.7],
  [70.1, 2.0], [70.4, 1.4], [70.7, 1.5], [71.0, 1.0], [71.3, 1.1], [71.6, 0.7],
  [77.4, 1.2], [77.6, 1.7], [77.8, 1.4], [78.0, 1.9], [78.2, 1.5], [78.4, 2.0], [78.6, 1.6], [78.8, 1.9], [79.0, 1.3], [79.2, 1.8],
  [79.4, 1.5], [79.6, 1.1], [77.6, 0.8],
];

const App = () => {
  const svgRef = useRef<SVGSVGElement>(null);

  useEffect(() => {
    const width = 1497;
    const height = 943;
    const svg = d3.select(svgRef.current);
    svg.selectAll('*').remove();
    svg.attr('width', width).attr('height', height);

    const x = d3.scaleLinear().domain([0, 84]).range([95, 1473]);
    const y = d3.scaleLinear().domain([0, 60]).range([770, 23]);
    const serif = "'Liberation Serif', 'Times New Roman', serif";
    const sans = "'Liberation Sans', Arial, sans-serif";

    svg.append('rect').attr('width', width).attr('height', height).attr('fill', '#fdfdfd');

    // horizontal gridlines, alternating grey and black like the original
    const gridColor = (d: number) => (d === 60 ? '#c0c0c0' : d === 20 || d === 40 ? '#000' : '#808080');
    svg.append('g')
      .selectAll('line')
      .data(yGrid)
      .join('line')
      .attr('x1', 83)
      .attr('x2', x(84))
      .attr('y1', d => y(d))
      .attr('y2', d => y(d))
      .attr('stroke', gridColor)
      .attr('stroke-width', 3);

    // frame: bottom axis, right border, left axis
    svg.append('line').attr('x1', 83).attr('x2', x(84)).attr('y1', y(0) + 2).attr('y2', y(0) + 2)
      .attr('stroke', '#808080').attr('stroke-width', 3);
    svg.append('line').attr('x1', x(84)).attr('x2', x(84)).attr('y1', y(60)).attr('y2', y(0) + 19)
      .attr('stroke', '#c0c0c0').attr('stroke-width', 3);
    svg.append('g')
      .selectAll('line')
      .data(xTicks.slice(1, -1))
      .join('line')
      .attr('x1', d => x(d)).attr('x2', d => x(d))
      .attr('y1', y(0) + 5).attr('y2', y(0) + 19)
      .attr('stroke', '#9a9a9a').attr('stroke-width', 2);
    svg.append('line').attr('x1', x(0)).attr('x2', x(0)).attr('y1', y(60)).attr('y2', y(0) + 19)
      .attr('stroke', '#000').attr('stroke-width', 3);

    // tick labels
    svg.append('g')
      .selectAll('text')
      .data(yTickLabels)
      .join('text')
      .attr('x', 63)
      .attr('y', d => y(d) + 12)
      .attr('text-anchor', 'end')
      .attr('font-family', serif)
      .attr('font-weight', 'bold')
      .attr('font-size', 36)
      .text(d => d);
    svg.append('g')
      .selectAll('text')
      .data(xTicks)
      .join('text')
      .attr('x', d => x(d))
      .attr('y', 842)
      .attr('text-anchor', 'middle')
      .attr('font-family', serif)
      .attr('font-weight', 'bold')
      .attr('font-size', 36)
      .text(d => d);

    // scatter series
    const squares = (pts: Pt[], size: number, color: string) => {
      svg.append('g')
        .attr('fill', color)
        .selectAll('rect')
        .data(pts)
        .join('rect')
        .attr('x', d => x(d[0]) - size / 2)
        .attr('y', d => y(d[1]) - size / 2)
        .attr('width', size)
        .attr('height', size);
    };
    squares(co2Points, 8, '#3366ff');
    svg.append('g')
      .attr('fill', '#b8ffb8')
      .attr('stroke', '#00f000')
      .attr('stroke-width', 1.6)
      .selectAll('circle')
      .data(ch4Points)
      .join('circle')
      .attr('cx', d => x(d[0]))
      .attr('cy', d => y(d[1]))
      .attr('r', 3.5);
    squares(coPoints, 6, '#000');
    squares(h2Points, 6, '#ff0000');

    // average level lines
    const levelColors = ['#ff0000', '#4400ff', '#000000', '#00ff00'];
    svg.append('g')
      .selectAll('line')
      .data(levelValues)
      .join('line')
      .attr('x1', x(-0.3))
      .attr('x2', (_, i) => x(levelEnds[i]))
      .attr('y1', d => y(d))
      .attr('y2', d => y(d))
      .attr('stroke', (_, i) => levelColors[i])
      .attr('stroke-width', 7);

    // lines along zero
    const zeroColors = ['#ff8080', '#ffcc00', '#ff0000'];
    const zeroWidths = [4, 2, 9];
    svg.append('g')
      .selectAll('line')
      .data(zeroLevels)
      .join('line')
      .attr('x1', x(-0.3))
      .attr('x2', (_, i) => x(zeroEnds[i]))
      .attr('y1', d => y(d))
      .attr('y2', d => y(d))
      .attr('stroke', (_, i) => zeroColors[i])
      .attr('stroke-width', (_, i) => zeroWidths[i]);

    // off-line bars
    svg.append('g')
      .selectAll('line')
      .data(offlineHours)
      .join('line')
      .attr('x1', d => x(d))
      .attr('x2', d => x(d))
      .attr('y1', y(0.2))
      .attr('y2', y(offlineTop))
      .attr('stroke', '#ffcc00')
      .attr('stroke-width', 9);

    // series labels
    const label = (t: string, lx: number, ly: number, size: number, len: number, color: string) => {
      svg.append('text')
        .attr('x', lx)
        .attr('y', ly)
        .attr('font-family', sans)
        .attr('font-size', size)
        .attr('fill', color)
        .attr('textLength', len)
        .attr('lengthAdjust', 'spacingAndGlyphs')
        .text(t);
    };
    label('H2', 893, 187, 96, 101, '#ff3300');
    label('CO2', 820, 437, 96, 171, '#1a90c8');
    label('CO', 903, 628, 84, 124, '#0000c8');
    label('CH4', 1073, 708, 95, 169, '#00cc99');
    label('Off-line', 477, 502, 44, 137, '#ffcc00');

    // axis titles
    svg.append('rect')
      .attr('x', 10).attr('y', 272).attr('width', 63).attr('height', 284)
      .attr('fill', 'none').attr('stroke', '#ffffc0').attr('stroke-width', 3);
    svg.append('text')
      .attr('transform', 'translate(57,417) rotate(-90)')
      .attr('text-anchor', 'middle')
      .attr('font-family', serif)
      .attr('font-size', 58)
      .attr('textLength', 265)
      .attr('lengthAdjust', 'spacingAndGlyphs')
      .text('Volume %');
    svg.append('text')
      .attr('x', 784)
      .attr('y', 929)
      .attr('text-anchor', 'middle')
      .attr('font-family', serif)
      .attr('font-weight', 'bold')
      .attr('font-size', 55)
      .attr('textLength', 188)
      .attr('lengthAdjust', 'spacingAndGlyphs')
      .text('Time, hrs');
  }, []);

  return <svg ref={svgRef} style={{ position: 'absolute', left: 0, top: 0 }} />;
};

export default App;
